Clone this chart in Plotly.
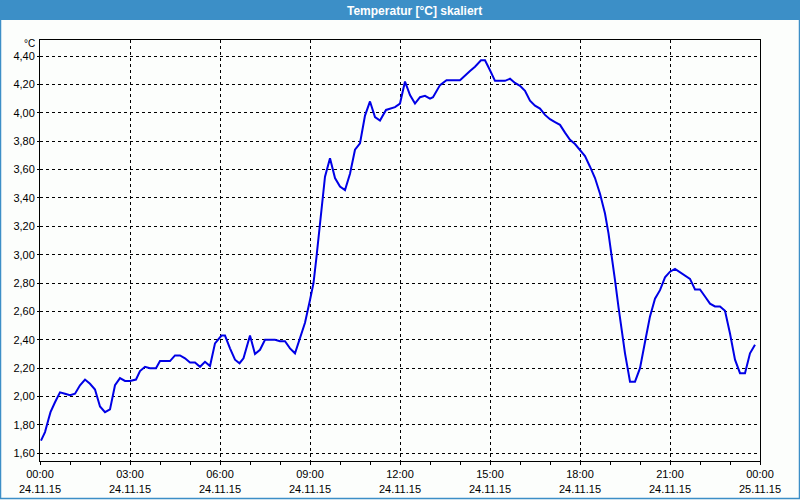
import plotly.graph_objects as go

DAY = "2015-11-24"
times = ["00:02","00:10","00:17","00:21","00:30","00:40","00:50","01:00","01:10","01:20",
         "01:30","01:40","01:50","02:00","02:10","02:20","02:30","02:40","02:50","03:00",
         "03:12","03:20","03:30","03:40","03:52","04:00","04:20","04:30","04:40","04:50",
         "05:00","05:10","05:20","05:30","05:40","05:50","06:03","06:10","06:20","06:30",
         "06:39","06:47","07:00","07:10","07:20","07:30","07:50","08:00","08:10","08:20",
         "08:30","08:40","08:50","09:00","09:07","09:13","09:20","09:25","09:30","09:40",
         "09:50","10:00","10:10","10:20","10:30","10:40","10:50","11:00","11:10","11:20",
         "11:32","11:50","12:00","12:10","12:20","12:30","12:40","12:50","13:00","13:06",
         "13:20","13:33","14:00","14:20","14:30","14:42","14:50","15:00","15:10","15:30",
         "15:40","15:50","16:00","16:10","16:20","16:30","16:40","16:50","17:00","17:10",
         "17:20","17:30","17:40","17:50","18:00","18:10","18:20","18:30","18:40","18:50",
         "18:57","19:03","19:10","19:17","19:23","19:30","19:37","19:40","19:50","20:00",
         "20:10","20:20","20:30","20:40","20:50","21:00","21:10","21:20","21:30","21:40",
         "21:50","22:00","22:10","22:20","22:30","22:40","22:50","23:00","23:10","23:20",
         "23:30","23:40","23:50"]
temps = [1.69,1.75,1.84,1.89,1.96,2.03,2.02,2.01,2.02,2.08,
         2.12,2.09,2.05,1.93,1.89,1.91,2.08,2.13,2.11,2.11,
         2.12,2.18,2.21,2.20,2.20,2.25,2.25,2.29,2.29,2.27,
         2.24,2.24,2.21,2.245,2.215,2.375,2.43,2.43,2.34,2.26,
         2.235,2.27,2.43,2.30,2.33,2.40,2.40,2.39,2.39,2.34,
         2.305,2.42,2.52,2.68,2.80,2.985,3.20,3.385,3.55,3.68,
         3.54,3.48,3.455,3.57,3.74,3.785,3.98,4.08,3.97,3.945,
         4.02,4.04,4.065,4.22,4.125,4.065,4.11,4.12,4.10,4.11,
         4.195,4.23,4.23,4.295,4.325,4.37,4.37,4.30,4.225,4.225,
         4.24,4.21,4.19,4.155,4.085,4.05,4.03,3.985,3.955,3.935,
         3.915,3.86,3.81,3.78,3.74,3.695,3.62,3.54,3.43,3.29,
         3.15,3.01,2.82,2.63,2.47,2.305,2.165,2.105,2.105,2.20,
         2.385,2.565,2.69,2.75,2.84,2.88,2.90,2.875,2.85,2.83,
         2.755,2.755,2.705,2.655,2.635,2.635,2.605,2.445,2.26,2.165,
         2.165,2.305,2.365]
title_text = "Temperatur [°C] skaliert"
unit_text = "°C"
x_range = ["2015-11-24 00:00", "2015-11-25 00:00"]
y_range = [1.546, 4.513]

xs = [f"{DAY} {t}" for t in times]

W, H = 800, 500
L, R, T, B = 40, 40, 40, 39
PW, PH = W - L - R, H - T - B
def px(x): return (x - L) / PW
def py(y): return (H - B - y) / PH

BAR = "#3c8fc7"
BG = "#fcfefc"

fig = go.Figure()
fig.add_trace(go.Scatter(x=xs, y=temps, mode="lines",
                         line=dict(color="#0000e6", width=2), showlegend=False))

fig.update_layout(
    width=W, height=H, margin=dict(l=L, r=R, t=T, b=B, autoexpand=False),
    paper_bgcolor=BG, plot_bgcolor=BG, separators=",.",
    font=dict(family="Liberation Sans", size=11, color="black"),
    xaxis=dict(type="date", range=x_range, dtick=3*3600000, tick0="2015-11-24",
               tickformat="%H:%M<br>%d.%m.%y", ticks="outside", ticklen=3,
               tickcolor="black", showline=True, linecolor="black", linewidth=1,
               mirror=True, showgrid=True, gridcolor="black", gridwidth=1,
               griddash="3px,3px", zeroline=False,
               minor=dict(dtick=3600000, ticks="outside", ticklen=3,
                          tickcolor="black", showgrid=False)),
    yaxis=dict(range=y_range, dtick=0.2, tick0=1.6, tickformat=".2f",
               ticks="outside", ticklen=2, tickcolor="black", showline=True,
               linecolor="black", linewidth=1, mirror=True, showgrid=True,
               gridcolor="black", gridwidth=1, griddash="3px,3px", zeroline=False),
    shapes=[
        dict(type="rect", xref="paper", yref="paper", x0=px(0), x1=px(800),
             y0=py(0), y1=py(20), fillcolor=BAR, line=dict(width=0), layer="above"),
        dict(type="rect", xref="paper", yref="paper", x0=px(0.5), x1=px(799.5),
             y0=py(0.5), y1=py(498.5), fillcolor="rgba(0,0,0,0)",
             line=dict(color=BAR, width=1.5), layer="above"),
    ],
    annotations=[
        dict(text=f"<b>{title_text}</b>", xref="paper", yref="paper",
             x=px(414.5), y=py(10.5), xanchor="center", yanchor="middle",
             showarrow=False, font=dict(family="Liberation Sans", size=12, color="white")),
        dict(text=unit_text, xref="paper", yref="paper", x=px(37), y=py(43),
             xanchor="right", yanchor="middle", showarrow=False,
             font=dict(family="Liberation Sans", size=10, color="black")),
    ],
)
fig.write_html("out.html")
